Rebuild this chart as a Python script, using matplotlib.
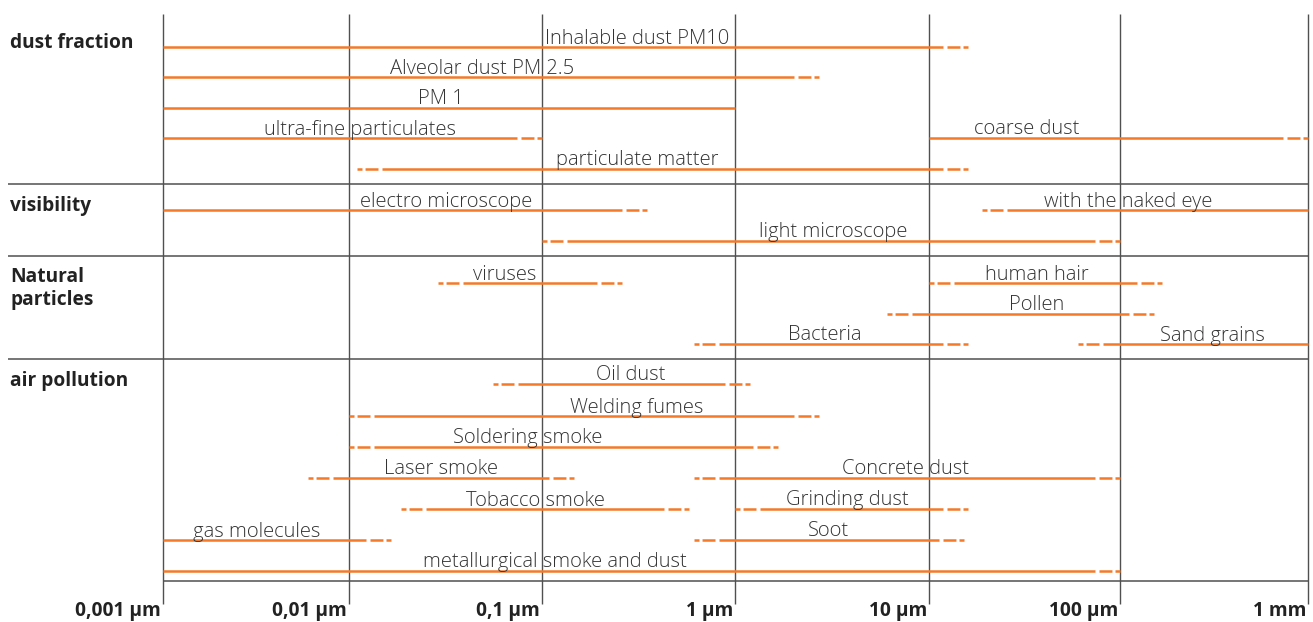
import numpy as np
import matplotlib
matplotlib.use('Agg')
import matplotlib.pyplot as plt

plt.rcParams['lines.scale_dashes'] = False

# ---------------- data ----------------
decade_values = [0.001, 0.01, 0.1, 1, 10, 100, 1000]
tick_labels = ['0,001 µm', '0,01 µm', '0,1 µm', '1 µm', '10 µm', '100 µm', '1 mm']

group_names = ['dust fraction', 'visibility', 'Natural\nparticles', 'air pollution']

item_labels = ['Inhalable dust PM10', 'Alveolar dust PM 2.5', 'PM 1',
               'ultra-fine particulates', 'coarse dust', 'particulate matter',
               'electro microscope', 'with the naked eye', 'light microscope',
               'viruses', 'human hair', 'Pollen', 'Bacteria', 'Sand grains',
               'Oil dust', 'Welding fumes', 'Soldering smoke', 'Laser smoke',
               'Concrete dust', 'Tobacco smoke', 'Grinding dust', 'gas molecules',
               'Soot', 'metallurgical smoke and dust']
item_row = [0, 1, 2, 3, 3, 4,
            5, 5, 6,
            7, 7, 8, 9, 9,
            10, 11, 12, 13, 13, 14, 14, 15, 15, 16]
size_min = [0.001, 0.001, 0.001, 0.001, 10, 0.011,
            0.001, 19, 0.1,
            0.029, 10, 6.1, 0.61, 60,
            0.056, 0.01, 0.01, 0.006, 0.61, 0.0185, 1.0, 0.001, 0.61, 0.001]
size_max = [16, 2.7, 1, 0.1, 1000, 16,
            0.35, 1000, 100,
            0.26, 167, 151, 16, 1000,
            1.2, 2.7, 1.67, 0.147, 100, 0.58, 16, 0.0166, 15.2, 100]
min_uncertain = [False, False, False, False, False, True,
                 False, True, True,
                 True, True, True, True, True,
                 True, True, True, True, True, True, True, False, True, False]
max_uncertain = [True, True, False, True, True, True,
                 True, False, True,
                 True, True, True, True, False,
                 True, True, True, True, True, True, True, True, True, True]

# ---------------- layout ----------------
W, H = 1313, 622
grid_px = np.array([163, 349, 542, 735, 929, 1120, 1308], dtype=float)
dec = np.log10(decade_values)

def fwd(x):
    lx = np.log10(np.clip(np.asarray(x, dtype=float), 1e-300, None))
    y = np.interp(lx, dec, grid_px)
    lo_s = (grid_px[1] - grid_px[0]) / (dec[1] - dec[0])
    hi_s = (grid_px[-1] - grid_px[-2]) / (dec[-1] - dec[-2])
    y = np.where(lx < dec[0], grid_px[0] + (lx - dec[0]) * lo_s, y)
    y = np.where(lx > dec[-1], grid_px[-1] + (lx - dec[-1]) * hi_s, y)
    return y

def inv(p):
    p = np.asarray(p, dtype=float)
    lx = np.interp(p, grid_px, dec)
    lo_s = (dec[1] - dec[0]) / (grid_px[1] - grid_px[0])
    hi_s = (dec[-1] - dec[-2]) / (grid_px[-1] - grid_px[-2])
    lx = np.where(p < grid_px[0], dec[0] + (p - grid_px[0]) * lo_s, lx)
    lx = np.where(p > grid_px[-1], dec[-1] + (p - grid_px[-1]) * hi_s, lx)
    return 10 ** lx

row_y = [47, 77, 108, 138, 169, 210, 241, 283, 314, 344,
         384, 416, 447, 478, 509, 540, 571]
label_x = [0.31, 0.049, 0.030, 0.0114, 32.6, 0.31,
           0.032, 110, 3.2,
           0.064, 36.7, 36.7, 2.9, 312,
           0.29, 0.31, 0.084, 0.030, 7.6, 0.093, 3.8, 0.0032, 3.05, 0.117]
group_y = [43, 206, 289, 381]
separator_y = [184, 256, 359]
bottom_y = 581

ORANGE = '#F47A2A'
GRID = '#505050'
TEXT = '#333333'
LW = 1.8
FONT = 'Open Sans'

fig = plt.figure(figsize=(W / 100, H / 100), dpi=100)
ax = fig.add_axes([0, 0, 1, 1])
ax.set_xscale('function', functions=(fwd, inv))
ax.set_xlim(float(inv(0)), float(inv(W)))
ax.set_ylim(H, 0)
ax.axis('off')

# vertical grid lines
ax.vlines(decade_values, 14, 604, color=GRID, lw=1.0, zorder=1)
# separators
ax.hlines(separator_y, float(inv(8)), decade_values[-1], color=GRID, lw=1.1, zorder=1)
ax.hlines(bottom_y, decade_values[0], decade_values[-1], color=GRID, lw=1.1, zorder=1)

# tick labels
for v, t in zip(decade_values, tick_labels):
    ax.text(float(inv(fwd(v) - 2)), 611, t, ha='right', va='center',
            fontsize=13.8, fontweight='bold', color='#222222', family=FONT)

# group labels
for g, y in zip(group_names, group_y):
    ax.text(float(inv(10)), y, g, ha='left', va='center', fontsize=13.8,
            fontweight='bold', color='#222222', family=FONT, linespacing=1.2)

DASH_LEN = 21   # px of dashed part
SOLID_GAP = 25  # px where solid starts
dash_style = (0, (3.6, 2.2, 9.4, 10))

for lab, r, a, b, fa, fb, lx in zip(item_labels, item_row, size_min, size_max,
                                    min_uncertain, max_uncertain, label_x):
    y = row_y[r]
    pa, pb = float(fwd(a)), float(fwd(b))
    sa = pa + SOLID_GAP if fa else pa
    sb = pb - SOLID_GAP if fb else pb
    ax.plot([float(inv(sa)), float(inv(sb))], [y, y], color=ORANGE, lw=LW,
            solid_capstyle='butt', zorder=3)
    if fa:
        ax.plot([a, float(inv(pa + DASH_LEN))], [y, y], color=ORANGE, lw=LW,
                linestyle=dash_style, dash_capstyle='butt', zorder=3)
    if fb:
        ax.plot([b, float(inv(pb - DASH_LEN))], [y, y], color=ORANGE, lw=LW,
                linestyle=dash_style, dash_capstyle='butt', zorder=3)
    ax.text(lx, y - 3.5, lab, ha='center', va='baseline', fontsize=14.5,
            color=TEXT, family=FONT, fontweight='light', zorder=4)

fig.savefig('out.png', dpi=100, facecolor='white')
